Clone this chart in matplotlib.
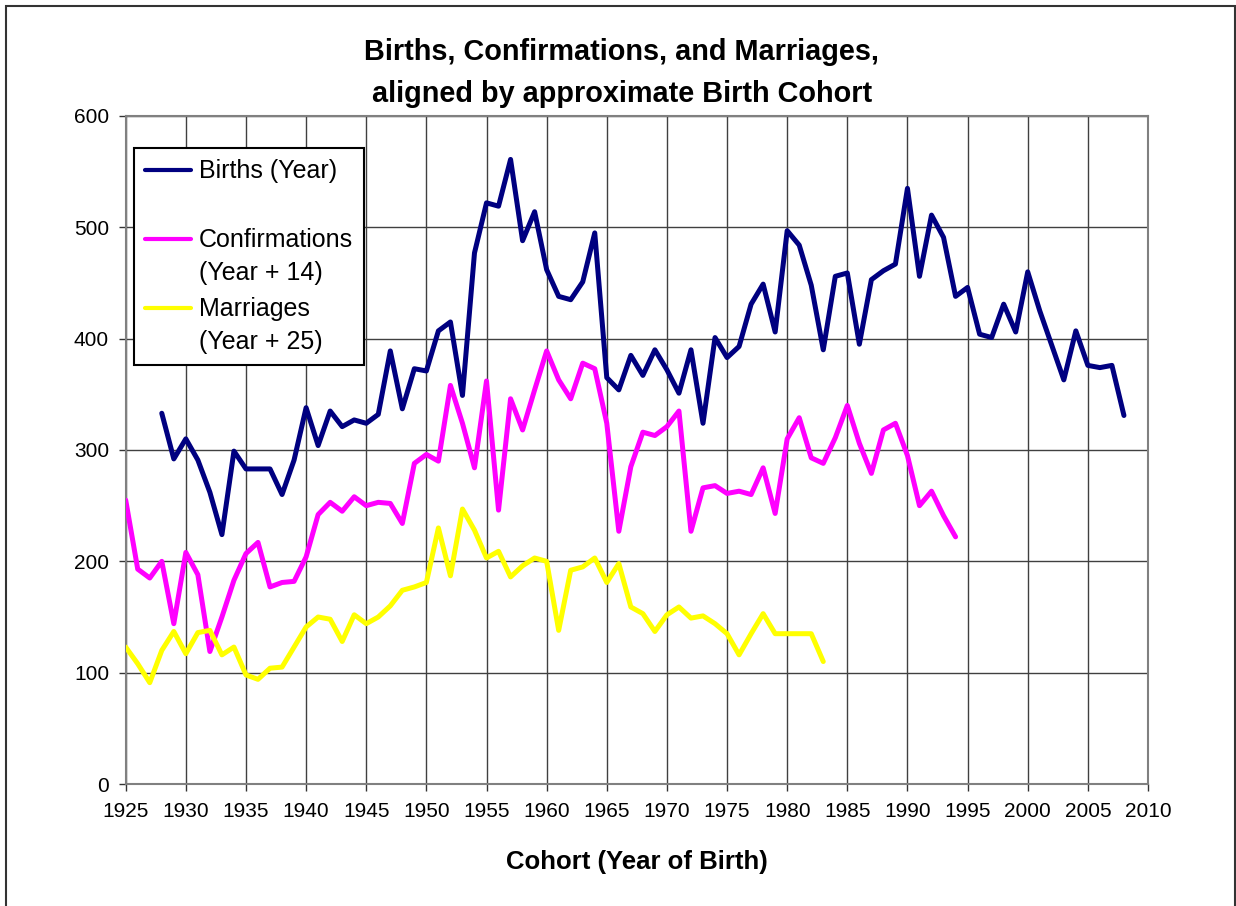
from matplotlib import pyplot as plt
from matplotlib.patches import Rectangle
from matplotlib.legend_handler import HandlerLine2D
import numpy as np

plt.rcParams['font.family'] = ['Liberation Sans', 'DejaVu Sans']

# births by year (cohort), 1928-2008
birthYears = list(range(1928, 2009))
births = [333, 292, 310, 291, 262, 224, 299, 283, 283, 283,
          260, 291, 338, 304, 335, 321, 327, 324, 332, 389,
          337, 373, 371, 407, 415, 349, 477, 522, 519, 561,
          488, 514, 462, 438, 435, 451, 495, 365, 354, 385,
          367, 390, 372, 351, 390, 324, 401, 383, 393, 431,
          449, 406, 497, 484, 448, 390, 456, 459, 395, 453,
          461, 467, 535, 456, 511, 491, 438, 446, 404, 401,
          431, 406, 460, 425, 394, 363, 407, 376, 374, 376,
          331]

# confirmations shifted back 14 years, cohort 1925-1994
confYears = list(range(1925, 1995))
confirmations = [255, 193, 185, 200, 144, 208, 188, 119, 150, 183,
                 207, 217, 177, 181, 182, 204, 242, 253, 245, 258,
                 250, 253, 252, 234, 288, 296, 290, 358, 324, 284,
                 362, 246, 346, 318, 354, 389, 363, 346, 378, 373,
                 324, 227, 285, 316, 313, 321, 335, 227, 266, 268,
                 261, 263, 260, 284, 243, 310, 329, 293, 288, 311,
                 340, 306, 279, 318, 324, 295, 250, 263, 241, 222]

# marriages shifted back 25 years, cohort 1925-1983
marrYears = list(range(1925, 1984))
marriages = [123, 108, 91, 120, 137, 117, 136, 138, 116, 123,
             98, 94, 104, 105, 123, 141, 150, 148, 128, 152,
             144, 150, 160, 174, 177, 181, 230, 187, 247, 228,
             203, 209, 186, 196, 203, 200, 138, 192, 195, 203,
             181, 198, 159, 153, 137, 152, 159, 149, 151, 144,
             135, 116, 135, 153, 135, 135, 135, 135, 110]

labels = ['Births (Year)\n ', 'Confirmations\n(Year + 14)', 'Marriages\n(Year + 25)']
colors = ['#000080', '#FF00FF', '#FFFF00']
xticks = list(range(1925, 2011, 5))
yticks = list(range(0, 601, 100))

LEG_FS = 18
LEG_LS = 1.45
HANDLE_SHIFT = 13  # points, moves legend line up to the first text line


class HandlerFirstLine(HandlerLine2D):
    # put the legend line next to the first text line, not the middle of the block
    def create_artists(self, legend, orig_handle, xdescent, ydescent,
                       width, height, fontsize, trans):
        arts = super().create_artists(legend, orig_handle, xdescent, ydescent,
                                      width, height, fontsize, trans)
        for a in arts:
            a.set_ydata(np.asarray(a.get_ydata(), dtype=float) + HANDLE_SHIFT)
        return arts


W, H = 1236, 906
fig = plt.figure(figsize=(W / 100, H / 100), dpi=100)
ax = fig.add_axes([125.7 / W, 1 - 784 / H, (1148 - 125.7) / W, (784 - 116) / H])

# outer chart frame
fig.patches.append(Rectangle((6 / W, -0.02), (1235 - 6) / W, 1 - 6 / H + 0.02,
                             transform=fig.transFigure, fill=False,
                             edgecolor='#333333', linewidth=1.5))

ax.plot(birthYears, births, color=colors[0], lw=3.6, label=labels[0],
        solid_joinstyle='round', solid_capstyle='round', zorder=3)
ax.plot(confYears, confirmations, color=colors[1], lw=3.6, label=labels[1],
        solid_joinstyle='round', solid_capstyle='round', zorder=3)
ax.plot(marrYears, marriages, color=colors[2], lw=3.6, label=labels[2],
        solid_joinstyle='round', solid_capstyle='round', zorder=3)

ax.set_xlim(1925, 2010)
ax.set_ylim(0, 600)
ax.set_xticks(xticks)
ax.set_yticks(yticks)
ax.grid(True, color='#404040', lw=1.0)
ax.set_axisbelow(True)
for s in ax.spines.values():
    s.set_color('#808080')
    s.set_linewidth(1.5)
ax.tick_params(axis='both', direction='out', length=5, width=1, color='#333333',
               labelsize=15)
ax.tick_params(axis='x', pad=8)
ax.tick_params(axis='y', pad=7)

leg = ax.legend(loc='upper left', bbox_to_anchor=(0.008, 0.952), borderaxespad=0,
                fontsize=LEG_FS, frameon=True, fancybox=False, edgecolor='black',
                framealpha=1, handlelength=1.85, handletextpad=0.3,
                labelspacing=0.5, borderpad=0.45,
                handler_map={plt.Line2D: HandlerFirstLine()})
leg.get_frame().set_linewidth(1.5)
for t in leg.get_texts():
    t.set_linespacing(LEG_LS)
for h in leg.get_lines():
    h.set_linewidth(3.0)
    h.set_solid_capstyle('round')

fig.text(622 / W, 1 - 73 / H,
         'Births, Confirmations, and Marriages,\naligned by approximate Birth Cohort',
         ha='center', va='center', fontsize=20.8, fontweight='bold', linespacing=1.62)

ax.set_xlabel('Cohort (Year of Birth)', fontsize=18.5, fontweight='bold', va='center')
ax.xaxis.set_label_coords(0.5, (784 - 862) / (784 - 116))

plt.savefig('out.png', dpi=100)
